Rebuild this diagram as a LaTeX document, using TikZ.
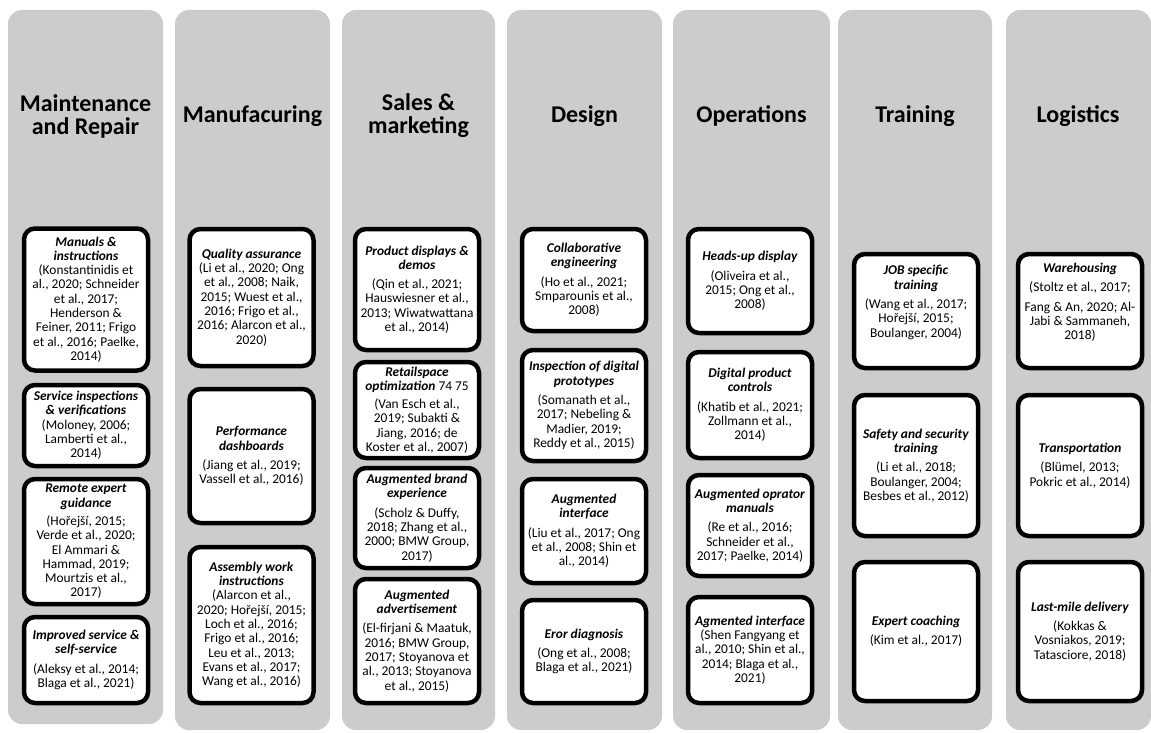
\documentclass[tikz,border=0pt]{standalone}
\usepackage{fontspec}
\setmainfont{Carlito}
\usetikzlibrary{positioning}
\definecolor{lanegray}{RGB}{204,204,204}
\newcommand{\casename}[1]{\textbf{\textit{#1}}}

\begin{document}
\begin{tikzpicture}[
    x=1pt, y=-1pt,
    lane/.style={fill=lanegray, rounded corners=14pt},
    lanehead/.style={font=\fontsize{24}{23}\selectfont\bfseries, align=center, inner sep=0pt},
    usecase/.style={rectangle, draw, line width=4.5pt, fill=white, rounded corners=11pt, align=center, minimum width=124pt, inner sep=0pt, font=\fontsize{13.4}{14.3}\selectfont}
]
\useasboundingbox (0,0) rectangle (1151,733);

% lanes
\fill[lane] (8,10) rectangle (163,724);
\fill[lane] (175,10) rectangle (330,730);
\fill[lane] (342,10) rectangle (495,730);
\fill[lane] (507,10) rectangle (662,730);
\fill[lane] (673,10) rectangle (830,730);
\fill[lane] (838,10) rectangle (992,730);
\fill[lane] (1006,10) rectangle (1151,730);

% headers
\node[lanehead] (maint) at (85.5,116) {Maintenance\\and Repair};
\node[lanehead] (manuf) at (252.5,116) {Manufacuring};
\node[lanehead] (sales) at (418.5,116) {Sales \&\\marketing};
\node[lanehead] (design) at (584.5,116) {Design};
\node[lanehead] (oper) at (751.5,116) {Operations};
\node[lanehead] (train) at (915,116) {Training};
\node[lanehead] (logist) at (1078,116) {Logistics};

% Maintenance and Repair
\node[usecase, minimum height=142pt] (manuals) at (86,299.5) {\casename{Manuals \&}\\\casename{instructions}\\(Konstantinidis et\\al., 2020; Schneider\\et al., 2017;\\Henderson \&\\Feiner, 2011; Frigo\\et al., 2016; Paelke,\\2014)};
\node[usecase, minimum height=81pt] (inspect) at (86,425.5) {\casename{Service inspections}\\\casename{\& verifications}\\(Moloney, 2006;\\Lamberti et al.,\\2014)};
\node[usecase, minimum height=125pt] (remote) at (86,541.5) {\casename{Remote expert}\\\casename{guidance}\\[4pt](Hořejší, 2015;\\Verde et al., 2020;\\El Ammari \&\\Hammad, 2019;\\Mourtzis et al.,\\2017)};
\node[usecase, minimum height=86pt] (selfserv) at (86,660) {\casename{Improved service \&}\\\casename{self-service}\\[5pt](Aleksy et al., 2014;\\Blaga et al., 2021)};

% Manufacuring
\node[usecase, minimum height=137pt] (quality) at (251.5,297.5) {\casename{Quality assurance}\\(Li et al., 2020; Ong\\et al., 2008; Naik,\\2015; Wuest et al.,\\2016; Frigo et al.,\\2016; Alarcon et al.,\\2020)};
\node[usecase, minimum height=134pt] (dashb) at (251.5,456) {\casename{Performance}\\\casename{dashboards}\\[5pt](Jiang et al., 2019;\\Vassell et al., 2016)};
\node[usecase, minimum height=156pt] (assembly) at (251.5,625) {\casename{Assembly work}\\\casename{instructions}\\(Alarcon et al.,\\2020; Hořejší, 2015;\\Loch et al., 2016;\\Frigo et al., 2016;\\Leu et al., 2013;\\Evans et al., 2017;\\Wang et al., 2016)};

% Sales & marketing
\node[usecase, minimum height=121pt] (displays) at (417,289.5) {\casename{Product displays \&}\\\casename{demos}\\[5pt](Qin et al., 2021;\\Hauswiesner et al.,\\2013; Wiwatwattana\\et al., 2014)};
\node[usecase, minimum height=96pt] (retail) at (417,410) {\casename{Retailspace}\\\casename{optimization} 74 75\\[4pt](Van Esch et al.,\\2019; Subakti \&\\Jiang, 2016; de\\Koster et al., 2007)};
\node[usecase, minimum height=100pt] (brand) at (417,518) {\casename{Augmented brand}\\\casename{experience}\\[5pt](Scholz \& Duffy,\\2018; Zhang et al.,\\2000; BMW Group,\\2017)};
\node[usecase, minimum height=124pt] (advert) at (417,641) {\casename{Augmented}\\\casename{advertisement}\\[5pt](El-firjani \& Maatuk,\\2016; BMW Group,\\2017; Stoyanova et\\al., 2013; Stoyanova\\et al., 2015)};

% Design
\node[usecase, minimum height=102pt] (collab) at (584,280) {\casename{Collaborative}\\\casename{engineering}\\[5pt](Ho et al., 2021;\\Smparounis et al.,\\2008)};
\node[usecase, minimum height=111pt] (proto) at (584,405.5) {\casename{Inspection of digital}\\\casename{prototypes}\\[5pt](Somanath et al.,\\2017; Nebeling \&\\Madier, 2019;\\Reddy et al., 2015)};
\node[usecase, minimum height=104pt] (augint) at (584,531) {\casename{Augmented}\\\casename{interface}\\[5pt](Liu et al., 2017; Ong\\et al., 2008; Shin et\\al., 2014)};
\node[usecase, minimum height=103pt] (errdiag) at (584,651.5) {\casename{Eror diagnosis}\\[5pt](Ong et al., 2008;\\Blaga et al., 2021)};

% Operations
\node[usecase, minimum height=104pt] (hud) at (750,281) {\casename{Heads-up display}\\[5pt](Oliveira et al.,\\2015; Ong et al.,\\2008)};
\node[usecase, minimum height=106pt] (controls) at (750,405) {\casename{Digital product}\\\casename{controls}\\[5pt](Khatib et al., 2021;\\Zollmann et al.,\\2014)};
\node[usecase, minimum height=101pt] (opman) at (750,525.5) {\casename{Augmented oprator}\\\casename{manuals}\\[5pt](Re et al., 2016;\\Schneider et al.,\\2017; Paelke, 2014)};
\node[usecase, minimum height=106pt] (agmint) at (750,650) {\casename{Agmented interface}\\(Shen Fangyang et\\al., 2010; Shin et al.,\\2014; Blaga et al.,\\2021)};

% Training
\node[usecase, minimum height=114pt] (jobtrain) at (916,311) {\casename{JOB specific}\\\casename{training}\\[5pt](Wang et al., 2017;\\Hořejší, 2015;\\Boulanger, 2004)\\[5pt]\mbox{}};
\node[usecase, minimum height=141pt] (safety) at (916,465.5) {\casename{Safety and security}\\\casename{training}\\[5pt](Li et al., 2018;\\Boulanger, 2004;\\Besbes et al., 2012)};
\node[usecase, minimum height=139pt] (coach) at (916,631.5) {\casename{Expert coaching}\\[5pt](Kim et al., 2017)};

% Logistics
\node[usecase, minimum height=114pt] (wareh) at (1080,311) {\casename{Warehousing}\\[5pt](Stoltz et al., 2017;\\[5pt]Fang \& An, 2020; Al-\\Jabi \& Sammaneh,\\2018)\\[5pt]\mbox{}};
\node[usecase, minimum height=141pt] (transp) at (1080,465.5) {\casename{Transportation}\\[5pt](Blümel, 2013;\\Pokric et al., 2014)};
\node[usecase, minimum height=139pt] (lastmile) at (1080,631.5) {\casename{Last-mile delivery}\\[5pt](Kokkas \&\\Vosniakos, 2019;\\Tatasciore, 2018)};

\end{tikzpicture}
\end{document}
